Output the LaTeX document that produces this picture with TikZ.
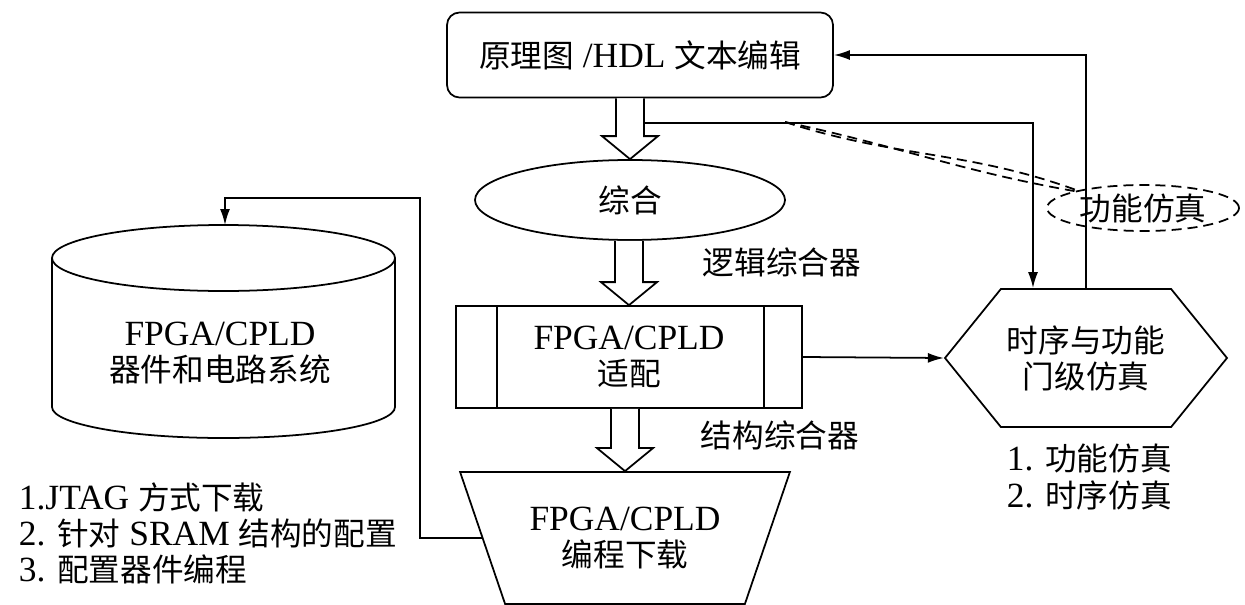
\documentclass[tikz,border=0pt]{standalone}
\usepackage{fontspec}
\setmainfont{Liberation Serif}[Scale=1.12]
\newfontfamily\zh{Noto Sans CJK SC}
\usetikzlibrary{shapes.geometric,shapes.symbols,arrows.meta,calc}

\tikzset{
  box/.style={draw, line width=1pt, align=center},
  wire/.style={line width=1pt},
  link/.style={wire, -{Latex[length=0.32cm,width=0.2cm]}},
  callout/.style={wire, dash pattern=on 0.2cm off 0.12cm},
}

% hollow block arrow, drawn at the x of the target
\newcommand{\fatarrow}[2]{%
  \draw[wire, fill=white] let \p1=(#1), \p2=(#2) in
    (\x2-0.28cm,\y1) -- (\x2-0.28cm,\y2+0.46cm) -- (\x2-0.56cm,\y2+0.46cm) -- (\x2,\y2)
    -- (\x2+0.56cm,\y2+0.46cm) -- (\x2+0.28cm,\y2+0.46cm) -- (\x2+0.28cm,\y1);}

\begin{document}
\begin{tikzpicture}[font=\fontsize{18}{20.5}\selectfont]
        \useasboundingbox (0,0) rectangle (24.9,12.08);

        % main flow
        \node[box, rounded corners=0.25cm, minimum width=7.72cm, minimum height=1.7cm] (edit) at (12.8,10.98) {{\zh 原理图} /HDL {\zh 文本编辑}};
        \node[box, ellipse, minimum width=6.2cm, minimum height=1.6cm] (syn) at (12.6,8.08) {\zh 综合};
        \node[box, minimum width=6.92cm, minimum height=2.04cm] (fit) at (12.58,4.94) {FPGA/CPLD\\{\zh 适配}};
        \node[box, trapezium, shape border rotate=180, trapezium angle=63, trapezium stretches=true,
              minimum width=6.6cm, minimum height=2.64cm] (prog) at (12.5,1.32) {FPGA/CPLD\\{\zh 编程下载}};

        \draw[wire] ([xshift=0.84cm]fit.north west) -- ([xshift=0.84cm]fit.south west);
        \draw[wire] ([xshift=-0.78cm]fit.north east) -- ([xshift=-0.78cm]fit.south east);

        \node (lsyn) at (15.64,6.84) {\zh 逻辑综合器};
        \node (ssyn) at (15.6,3.38) {\zh 结构综合器};

        \fatarrow{edit.south}{syn.north}
        \fatarrow{syn.south}{fit.north}
        \fatarrow{fit.south}{prog.north}

        % simulation
        \node[box, signal, signal to=west and east, signal pointer angle=102,
              minimum width=5.64cm, minimum height=2.76cm, inner sep=0pt] (sim) at (21.72,4.92) {{\zh 时序与功能}\\{\zh 门级仿真}};
        \node[align=left, anchor=west] (simlist) at (20.0,2.54) {1. {\zh 功能仿真}\\2. {\zh 时序仿真}};
        \node[draw, ellipse, callout, minimum width=3.84cm, minimum height=0.92cm, inner sep=0pt] (fsim) at (22.86,7.92) {\zh 功能仿真};

        \coordinate (tap) at (12.88,9.62);
        \coordinate (tip) at (15.7,9.64);
        \draw[link] (tap) -| ([xshift=-1.06cm]sim.north);
        \draw[link] (sim.north) |- (edit.east);
        \draw[link] (fit.east) -- (sim.west);
        \draw[callout] (tip) to[out=-12,in=170] (fsim.north west);
        \draw[callout] (tip) to[out=-18,in=160] (fsim.165);

        % target system
        \draw[wire] (1.04,6.92) -- (1.04,3.94) arc[start angle=180, end angle=360, x radius=3.43cm, y radius=0.62cm] -- (7.9,6.92);
        \draw[wire] (4.47,6.92) ellipse[x radius=3.43cm, y radius=0.66cm];
        \coordinate (systop) at (4.5,7.58);
        \node[align=center] (sys) at (4.4,5.02) {FPGA/CPLD\\{\zh 器件和电路系统}};
        \node[align=left, anchor=west] (dllist) at (0.24,1.42) {1.JTAG {\zh 方式下载}\\2. {\zh 针对} SRAM {\zh 结构的配置}\\3. {\zh 配置器件编程}};

        \coordinate (turn) at (8.4,8.12);
        \draw[link] (prog.west) -| (turn) -| (systop);
\end{tikzpicture}
\end{document}
